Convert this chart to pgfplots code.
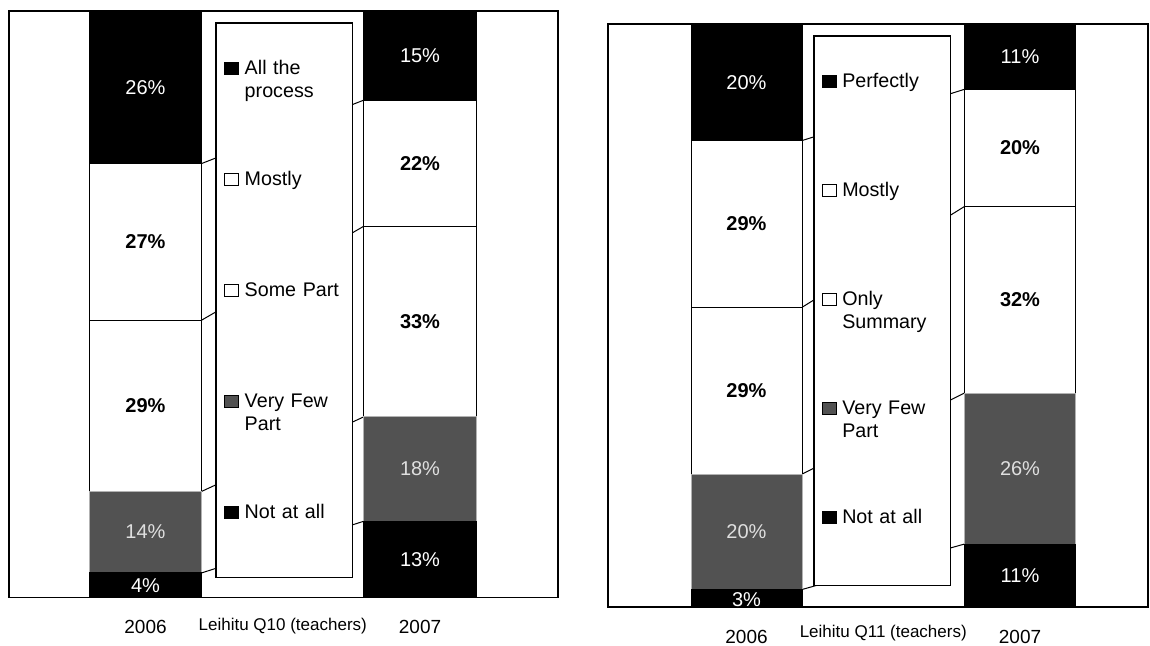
\documentclass[border=0pt]{standalone}
\usepackage{pgfplots}
\pgfplotsset{compat=1.18}
\usepackage{fontspec}
\setmainfont{Liberation Sans}
\definecolor{scan}{RGB}{82,82,82}
\newcommand\lfont{\fontsize{9.85}{11.6}\selectfont}
\newcommand\bfont{\fontsize{10}{12}\selectfont}
\newcommand\yfont{\fontsize{9.5}{11}\selectfont}
\newcommand\tfont{\fontsize{8.5}{10}\selectfont}
\pgfplotsset{
  panel/.style={scale only axis, ymin=0, ymax=100, clip=false, anchor=south west},
  ovl/.style={panel, hide axis},
  lbl/.style={draw=none, mark=none, nodes near coords, point meta=explicit symbolic,
     every node near coord/.append style={anchor=center, inner sep=0pt}},
  wl/.style={lbl, every node near coord/.append style={font=\bfont\bfseries, text=black}},
  kl/.style={lbl, every node near coord/.append style={font=\bfont, text=white}},
  gl/.style={lbl, every node near coord/.append style={font=\bfont, text=gray!25}},
  sl/.style={black, line width=0.5pt, mark=none},
  keysq/.style={legend image code/.code={\draw[##1, draw=black, line width=0.5pt] (0pt,0pt) rectangle (7pt,6pt);}},
  barax/.style={panel, ybar stacked,
     axis line style={black, line width=0.6pt},
     ytick=\empty, xtick={0,1}, xticklabels={2006,2007},
     major tick length=0pt,
     reverse legend, keysq},
}
\begin{document}
\begin{tikzpicture}
\useasboundingbox (0,0) rectangle (575pt,323pt);
% ================= LEFT PANEL =================
\begin{axis}[ovl, at={(4.5pt,24.25pt)}, width=274.5pt, height=293.25pt, xmin=-0.4973, xmax=1.5027]
\addplot[sl] coordinates {(0.2049,4.2) (0.7951,13.0)};
\addplot[sl] coordinates {(0.2049,18.1) (0.7951,30.8)};
\addplot[sl] coordinates {(0.2049,47.3) (0.7951,63.3)};
\addplot[sl] coordinates {(0.2049,74.0) (0.7951,84.8)};
\end{axis}
\begin{axis}[barax, at={(4.5pt,24.25pt)}, width=274.5pt, height=293.25pt, xmin=-0.4973, xmax=1.5027,
  bar width=56.25pt,
  xticklabel style={font=\yfont, yshift=-8pt},
  extra x ticks={0.5}, extra x tick labels={Leihitu Q10 (teachers)},
  extra x tick style={xticklabel style={font=\tfont, yshift=1.3pt}},
  legend style={at={(rel axis cs:0.5018,0.9812)}, anchor=north, draw=black, line width=0.75pt, fill=white,
     inner xsep=4pt, inner ysep=18.75pt, row sep=37.75pt, column sep=2.75pt,
     cells={anchor=base west},
     nodes={inner sep=0pt, text width=50pt, align=left, font=\lfont, text height=7pt, text depth=10.75pt}},
]
\addplot[fill=black, draw=black] coordinates {(0,4.2) (1,13.0)};
\addlegendentry{Not at all}
\addplot[fill=scan, draw=gray!60] coordinates {(0,13.9) (1,17.8)};
\addlegendentry{Very Few\\Part}
\addplot[fill=white, draw=black] coordinates {(0,29.2) (1,32.5)};
\addlegendentry{Some Part}
\addplot[fill=white, draw=black] coordinates {(0,26.7) (1,21.5)};
\addlegendentry{Mostly}
\addplot[fill=black, draw=black] coordinates {(0,26.0) (1,15.2)};
\addlegendentry{All the\\process}
\end{axis}
\begin{axis}[ovl, at={(4.5pt,24.25pt)}, width=274.5pt, height=293.25pt, xmin=-0.4973, xmax=1.5027]
\addplot[wl] coordinates {(0,60.65) [27\%] (1,74.05) [22\%] (0,32.7) [29\%] (1,47.05) [33\%]};
\addplot[kl] coordinates {(0,87.0) [26\%] (1,92.4) [15\%] (0,2.1) [4\%] (1,6.5) [13\%]};
\addplot[gl] coordinates {(0,11.15) [14\%] (1,21.9) [18\%]};
\end{axis}
% ================= RIGHT PANEL =================
\begin{axis}[ovl, at={(304pt,19.5pt)}, width=270pt, height=291.5pt, xmin=-0.5064, xmax=1.468]
\addplot[sl] coordinates {(0.2029,3.0) (0.7971,10.8)};
\addplot[sl] coordinates {(0.2029,22.8) (0.7971,36.7)};
\addplot[sl] coordinates {(0.2029,51.4) (0.7971,68.7)};
\addplot[sl] coordinates {(0.2029,80.0) (0.7971,88.8)};
\end{axis}
\begin{axis}[barax, at={(304pt,19.5pt)}, width=270pt, height=291.5pt, xmin=-0.5064, xmax=1.468,
  bar width=55.5pt,
  xticklabel style={font=\yfont, yshift=-8pt},
  extra x ticks={0.5}, extra x tick labels={Leihitu Q11 (teachers)},
  extra x tick style={xticklabel style={font=\tfont, yshift=2.3pt}},
  legend style={at={(rel axis cs:0.5074,0.9811)}, anchor=north, draw=black, line width=0.75pt, fill=white,
     inner xsep=4pt, inner ysep=18.8pt, row sep=35.3pt, column sep=2.75pt,
     cells={anchor=base west},
     nodes={inner sep=0pt, text width=50pt, align=left, font=\lfont, text height=7pt, text depth=12.2pt}},
]
\addplot[fill=black, draw=black] coordinates {(0,3.0) (1,10.8)};
\addlegendentry{Not at all}
\addplot[fill=scan, draw=gray!60] coordinates {(0,19.8) (1,25.9)};
\addlegendentry{Very Few\\Part}
\addplot[fill=white, draw=black] coordinates {(0,28.6) (1,32.0)};
\addlegendentry{Only\\Summary}
\addplot[fill=white, draw=black] coordinates {(0,28.6) (1,20.1)};
\addlegendentry{Mostly}
\addplot[fill=black, draw=black] coordinates {(0,20.0) (1,11.2)};
\addlegendentry{Perfectly}
\end{axis}
\begin{axis}[ovl, at={(304pt,19.5pt)}, width=270pt, height=291.5pt, xmin=-0.5064, xmax=1.468]
\addplot[wl] coordinates {(0,65.7) [29\%] (1,78.75) [20\%] (0,37.1) [29\%] (1,52.7) [32\%]};
\addplot[kl] coordinates {(0,90.0) [20\%] (1,94.4) [11\%] (0,1.2) [3\%] (1,5.4) [11\%]};
\addplot[gl] coordinates {(0,12.9) [20\%] (1,23.75) [26\%]};
\end{axis}
\end{tikzpicture}
\end{document}
